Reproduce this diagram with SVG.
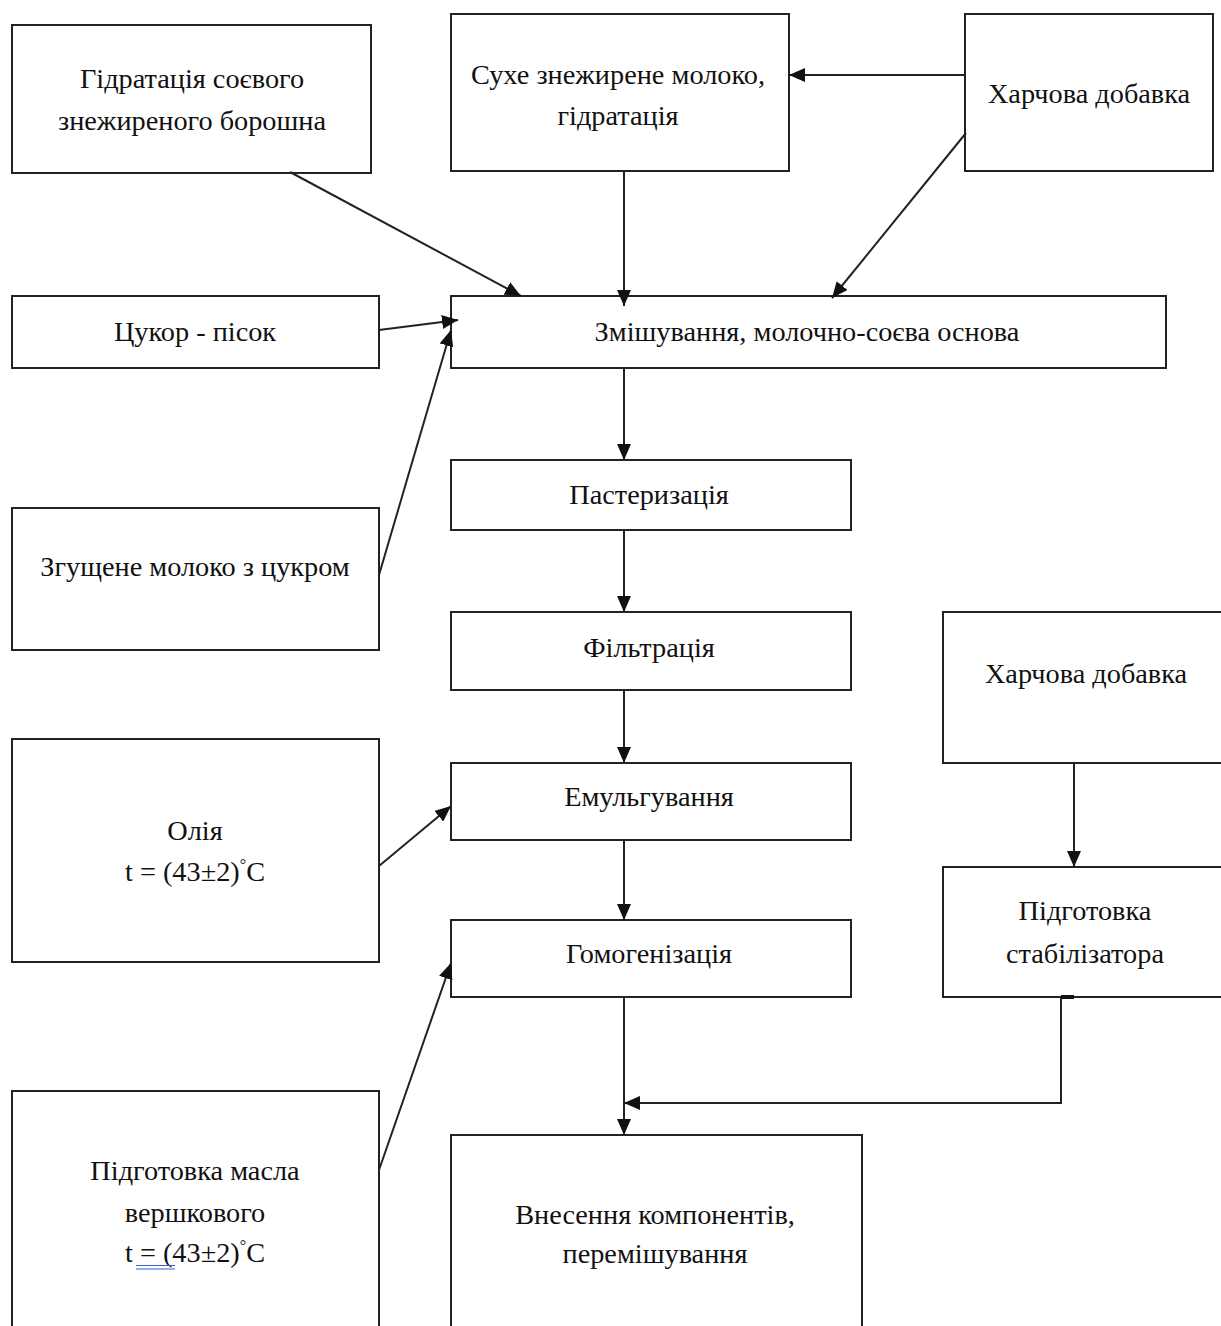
<svg xmlns="http://www.w3.org/2000/svg" width="1221" height="1326" viewBox="0 0 1221 1326">
<style>
.box{fill:#fff;stroke:#222;stroke-width:2}
.t{font-family:"Liberation Serif","Times New Roman",serif;font-size:28.3px;fill:#111;text-anchor:middle}
.c{stroke:#222;stroke-width:2;fill:none;marker-end:url(#ah)}
.deg{font-size:16px}
</style>
<defs>
<marker id="ah" viewBox="0 0 16 14" refX="16" refY="7" markerWidth="16" markerHeight="14" markerUnits="userSpaceOnUse" orient="auto">
<path d="M0,0 L16,7 L0,14 Z" fill="#111"/>
</marker>
</defs>
<rect width="1221" height="1326" fill="#fff"/>
<g id="nodes">
<g id="n1"><rect class="box" x="12" y="25" width="359" height="148"/><text class="t" x="192" y="88">Гідратація соєвого</text><text class="t" x="192" y="130">знежиреного борошна</text></g>
<g id="n2"><rect class="box" x="451" y="14" width="338" height="157"/><text class="t" x="618" y="84">Сухе знежирене молоко,</text><text class="t" x="618" y="125">гідратація</text></g>
<g id="n3"><rect class="box" x="965" y="14" width="248" height="157"/><text class="t" x="1089" y="103">Харчова добавка</text></g>
<g id="n4"><rect class="box" x="12" y="296" width="367" height="72"/><text class="t" x="195" y="341">Цукор - пісок</text></g>
<g id="n5"><rect class="box" x="451" y="296" width="715" height="72"/><text class="t" x="807" y="341">Змішування, молочно-соєва основа</text></g>
<g id="n6"><rect class="box" x="12" y="508" width="367" height="142"/><text class="t" x="195" y="576">Згущене молоко з цукром</text></g>
<g id="n7"><rect class="box" x="451" y="460" width="400" height="70"/><text class="t" x="649" y="504">Пастеризація</text></g>
<g id="n8"><rect class="box" x="451" y="612" width="400" height="78"/><text class="t" x="649" y="657">Фільтрація</text></g>
<g id="n9"><rect class="box" x="943" y="612" width="290" height="151"/><text class="t" x="1086" y="683">Харчова добавка</text></g>
<g id="n10"><rect class="box" x="12" y="739" width="367" height="223"/><text class="t" x="195" y="840">Олія</text><text class="t" x="195" y="881">t = (43±2)<tspan class="deg" dy="-11">°</tspan><tspan dy="11">C</tspan></text></g>
<g id="n11"><rect class="box" x="451" y="763" width="400" height="77"/><text class="t" x="649" y="806">Емульгування</text></g>
<g id="n12"><rect class="box" x="451" y="920" width="400" height="77"/><text class="t" x="649" y="963">Гомогенізація</text></g>
<g id="n13"><rect class="box" x="943" y="867" width="290" height="130"/><text class="t" x="1085" y="920">Підготовка</text><text class="t" x="1085" y="963">стабілізатора</text></g>
<g id="n14"><rect class="box" x="12" y="1091" width="367" height="250"/><text class="t" x="195" y="1180">Підготовка масла</text><text class="t" x="195" y="1222">вершкового</text><text class="t" x="195" y="1262">t = (43±2)<tspan class="deg" dy="-11">°</tspan><tspan dy="11">C</tspan></text>
<path d="M136,1265.5 H175 M136,1269 H175" stroke="#3b5fd0" stroke-width="1.2"/></g>
<g id="n15"><rect class="box" x="451" y="1135" width="411" height="210"/><text class="t" x="655" y="1224">Внесення компонентів,</text><text class="t" x="655" y="1263">перемішування</text></g>
</g>
<g id="connectors">
<path class="c" d="M290,172 L521,296"/>
<path class="c" d="M624,171 L624,306"/>
<path class="c" d="M965,75 L789,75"/>
<path class="c" d="M966,133 L832,298"/>
<path class="c" d="M379,330 L458,320"/>
<path class="c" d="M379,575 L451,330"/>
<path class="c" d="M624,368 L624,460"/>
<path class="c" d="M624,530 L624,612"/>
<path class="c" d="M624,690 L624,763"/>
<path class="c" d="M379,866 L451,806"/>
<path class="c" d="M624,840 L624,920"/>
<path class="c" d="M379,1170 L451,963"/>
<path class="c" d="M624,997 L624,1135"/>
<path class="c" d="M1074,763 L1074,867"/>
<path class="c" d="M1061,997 L1061,1103 L624,1103"/>
<path d="M1061,997 H1074" stroke="#111" stroke-width="4"/>
</g>
</svg>
